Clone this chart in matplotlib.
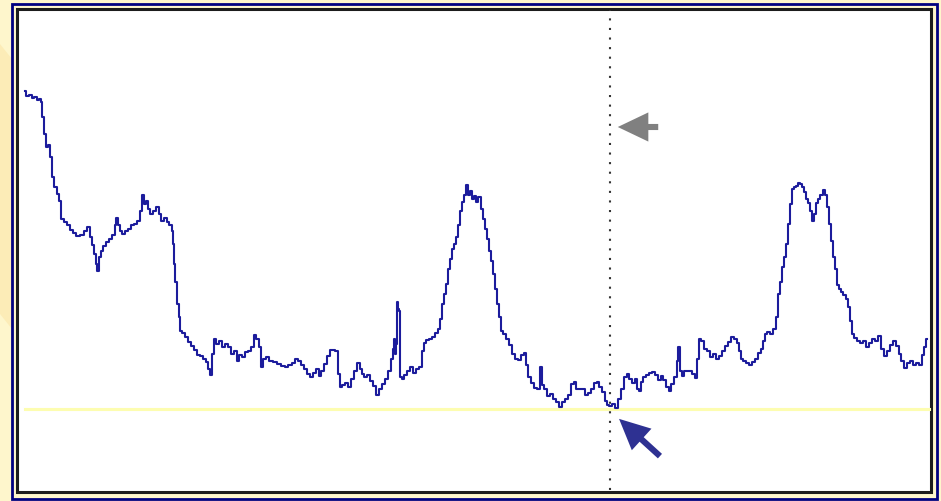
import numpy as np
import matplotlib
matplotlib.use("Agg")
import matplotlib.pyplot as plt
from matplotlib.patches import Rectangle, Polygon, FancyArrowPatch

# trace: position (column) and level
position = [25, 28, 31, 33, 36, 38, 40, 42, 43, 45, 47, 49, 51, 53, 56, 58, 60, 63, 66, 69,
            72, 75, 78, 82, 86, 89, 91, 93, 95, 97, 98, 100, 102, 105, 108, 111, 114, 116, 117, 119,
            121, 124, 127, 130, 133, 136, 139, 141, 143, 145, 147, 149, 152, 154, 158, 160, 163, 166, 168, 171,
            173, 174, 175, 176, 178, 180, 181, 184, 187, 190, 193, 196, 199, 202, 205, 207, 209, 211, 213, 215,
            218, 221, 224, 227, 230, 233, 236, 238, 241, 244, 247, 250, 253, 255, 258, 260, 262, 265, 268, 271,
            275, 279, 283, 287, 290, 294, 297, 300, 303, 306, 309, 312, 315, 318, 320, 323, 326, 329, 331, 334,
            337, 339, 341, 344, 347, 350, 353, 356, 359, 361, 363, 366, 369, 372, 375, 378, 381, 384, 387, 390,
            392, 394, 395, 396, 397, 398, 399, 400, 401, 403, 406, 409, 412, 415, 418, 421, 423, 425, 428, 431,
            434, 437, 439, 441, 443, 445, 447, 449, 451, 453, 455, 457, 459, 461, 463, 465, 467, 469, 471, 473,
            475, 477, 479, 481, 482, 484, 486, 488, 490, 492, 494, 496, 498, 500, 502, 505, 508, 511, 514, 517,
            520, 523, 525, 527, 530, 533, 536, 539, 541, 543, 546, 549, 552, 555, 558, 561, 564, 567, 570, 573,
            575, 578, 581, 584, 587, 590, 593, 596, 598, 601, 604, 606, 608, 611, 614, 617, 620, 623, 626, 628,
            631, 634, 636, 638, 640, 642, 645, 648, 651, 654, 657, 660, 662, 665, 668, 670, 673, 676, 678, 679,
            681, 683, 686, 690, 694, 697, 698, 700, 703, 706, 709, 712, 715, 718, 721, 724, 727, 730, 733, 736,
            738, 740, 742, 745, 748, 751, 754, 757, 760, 762, 764, 766, 769, 772, 775, 777, 779, 781, 783, 785,
            787, 789, 791, 793, 795, 797, 799, 801, 803, 805, 807, 809, 811, 813, 815, 817, 819, 822, 825, 826,
            828, 830, 832, 834, 836, 838, 840, 842, 845, 847, 849, 851, 853, 856, 859, 862, 865, 868, 871, 874,
            877, 880, 883, 886, 889, 892, 895, 898, 900, 903, 906, 909, 912, 915, 918, 921, 923, 925, 927]
level = [408, 403, 404, 401, 402, 399, 400, 397, 382, 365, 352, 354, 342, 322, 312, 305, 298, 280, 277, 274,
         269, 266, 263, 264, 268, 272, 262, 254, 245, 235, 228, 242, 248, 253, 257, 260, 264, 274, 281, 274,
         268, 265, 268, 270, 274, 275, 278, 288, 304, 295, 298, 290, 285, 288, 292, 285, 278, 281, 277, 274,
         268, 255, 235, 217, 195, 182, 168, 166, 162, 157, 153, 149, 144, 143, 140, 137, 130, 124, 145, 160,
         155, 158, 152, 155, 152, 145, 148, 138, 144, 142, 147, 148, 152, 164, 160, 152, 132, 140, 142, 138,
         137, 135, 133, 132, 134, 136, 140, 138, 134, 130, 125, 122, 126, 130, 123, 128, 135, 143, 149, 149,
         148, 125, 112, 114, 116, 112, 120, 128, 136, 130, 125, 122, 124, 118, 113, 104, 110, 115, 120, 128,
         140, 150, 160, 145, 155, 197, 190, 188, 122, 120, 124, 128, 132, 126, 130, 132, 148, 156, 159, 160,
         162, 166, 170, 180, 195, 205, 215, 230, 240, 250, 255, 262, 274, 288, 297, 304, 314, 304, 308, 300,
         303, 297, 302, 302, 290, 280, 270, 260, 248, 238, 225, 210, 195, 182, 168, 165, 160, 154, 145, 140,
         139, 144, 146, 134, 122, 116, 111, 110, 132, 114, 110, 103, 105, 100, 97, 92, 97, 100, 104, 115,
         117, 110, 110, 110, 104, 106, 110, 116, 117, 112, 107, 98, 94, 93, 95, 91, 100, 110, 122, 125,
         120, 116, 120, 110, 108, 117, 122, 124, 126, 127, 124, 119, 123, 119, 112, 108, 115, 122, 138, 152,
         128, 123, 128, 128, 125, 121, 140, 160, 158, 150, 148, 142, 145, 140, 143, 148, 153, 157, 162, 160,
         156, 148, 140, 138, 136, 134, 137, 140, 146, 150, 158, 165, 167, 165, 170, 182, 205, 217, 232, 242,
         255, 275, 295, 310, 312, 313, 316, 315, 312, 307, 300, 296, 288, 278, 285, 296, 300, 304, 309, 304,
         292, 275, 258, 242, 230, 214, 210, 207, 204, 200, 192, 178, 165, 161, 158, 156, 158, 152, 156, 160,
         158, 163, 150, 143, 148, 154, 158, 153, 145, 138, 131, 136, 138, 134, 136, 134, 144, 152, 160]

baseline = 90        # yellow reference level
cursor_pos = 610     # dotted cursor
marker_level = 372   # grey arrow height
min_pos, min_level = 617, 82

fig = plt.figure(figsize=(9.41, 5.02), dpi=100)
fig.patch.set_facecolor("#fef6cc")
ax = fig.add_axes([0, 0, 1, 1])
ax.set_xlim(0, 941)
ax.set_ylim(-2, 500)
ax.axis("off")

# faint background shading on the left
ax.add_patch(Polygon([[0, 455], [12, 440], [12, 170], [0, 185]], closed=True,
                     fc="#fbe4a6", ec="none", alpha=0.55, zorder=0))

# frames
ax.add_patch(Rectangle((12, 0), 925, 495, fill=False, ec="#000080", lw=2.0, zorder=1))
ax.add_patch(Rectangle((17, 7), 914, 483, fc="white", ec="#1c1c1c", lw=2.2, zorder=1))

# yellow baseline
ax.plot([25, 929], [baseline, baseline], color="#fdfdb0", lw=2.2, zorder=2)

# dotted cursor
ax.plot([cursor_pos, cursor_pos], [9, 489], color="#333333", lw=1.5,
        ls=(0, (1, 3.6)), zorder=2)

# signal
ax.plot(position, level, color="#1c1c9c", lw=1.5, zorder=3, drawstyle="steps-mid")

# arrows
ax.add_patch(FancyArrowPatch((661, marker_level), (615, marker_level),
                             arrowstyle="simple,head_length=1.1,head_width=1.05,tail_width=0.22",
                             mutation_scale=20, fc="#808080", ec="none", zorder=4))
ax.add_patch(FancyArrowPatch((662, 41), (min_pos, min_level),
                             arrowstyle="simple,head_length=1.1,head_width=1.05,tail_width=0.22",
                             mutation_scale=20, fc="#2e3192", ec="none", zorder=4))

fig.savefig("out.png", dpi=100, facecolor=fig.get_facecolor())
